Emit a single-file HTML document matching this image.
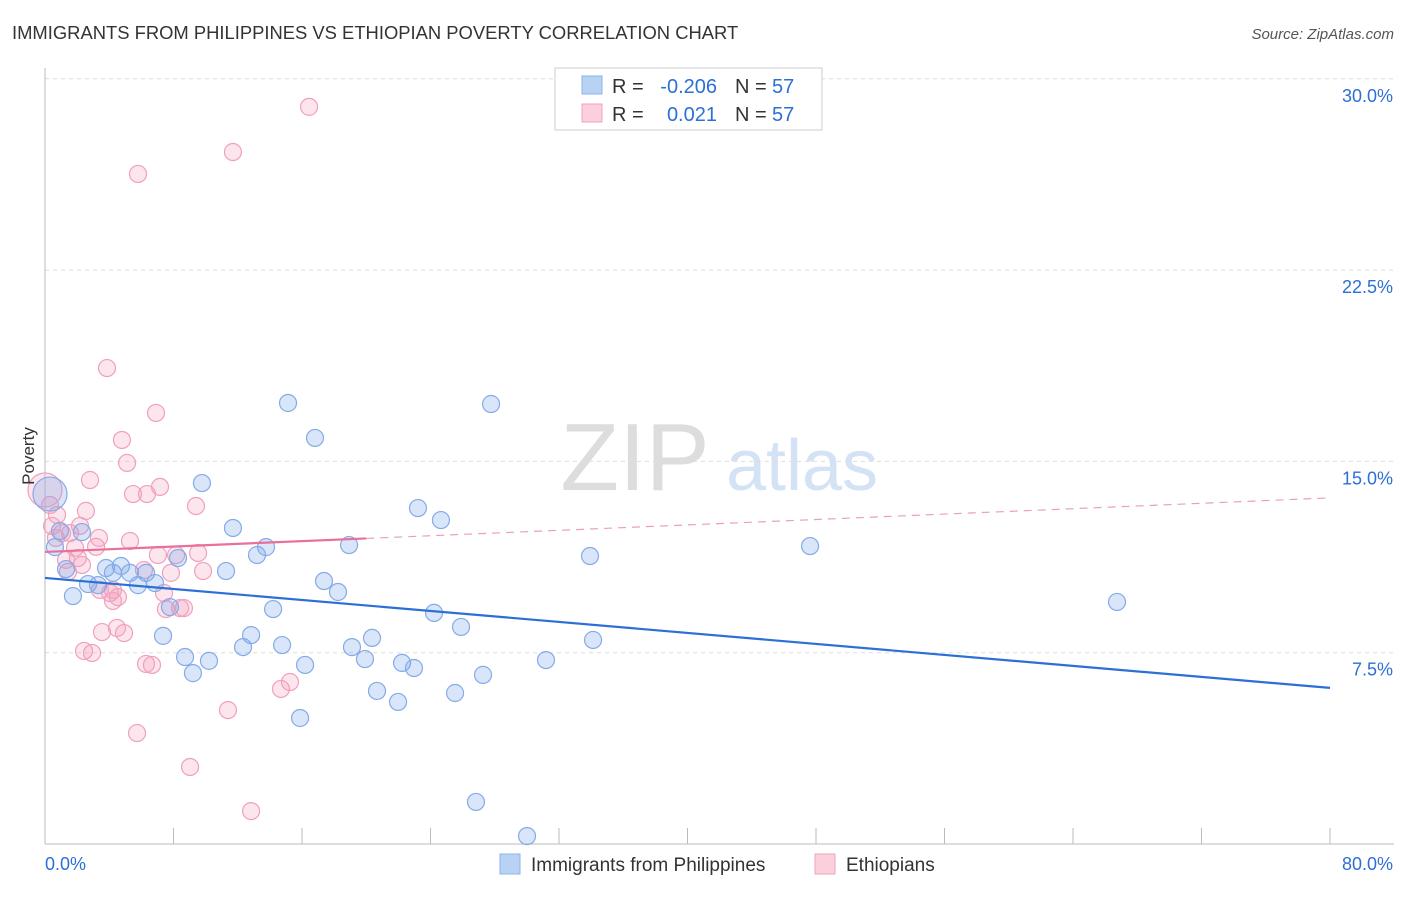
<!DOCTYPE html>
<html><head><meta charset="utf-8"><style>
body{margin:0;background:#fff;font-family:"Liberation Sans",sans-serif;}
svg text{font-family:"Liberation Sans",sans-serif;}
</style></head><body>
<svg id="chart" width="1406" height="892">
<text x="12" y="39" font-size="18.4" fill="#333">IMMIGRANTS FROM PHILIPPINES VS ETHIOPIAN POVERTY CORRELATION CHART</text>
<text x="1394" y="39" font-size="15" fill="#555" font-style="italic" text-anchor="end">Source: ZipAtlas.com</text>
<g><text x="635" y="490" font-size="96" fill="#ddd" font-family="Liberation Serif" text-anchor="middle">ZIP</text><text x="802" y="490" font-size="72" fill="#d3e2f5" text-anchor="middle">atlas</text></g>
<g id="grid"></g><g id="axes"></g><g id="pts"></g><g id="trend"></g>
<text x="0" y="0" transform="translate(34,456) rotate(-90)" font-size="17" fill="#333" text-anchor="middle">Poverty</text>
<g>
<rect x="555" y="68" width="267" height="62" fill="#fff" stroke="#ccc"/>
<rect x="582" y="76" width="20" height="18" fill="#b8d2f4" stroke="#8fb2ea"/>
<text x="612" y="93" font-size="20" fill="#333">R =</text>
<text x="717" y="93" font-size="20" fill="#2c6fd6" text-anchor="end">-0.206</text>
<text x="735" y="93" font-size="20" fill="#333">N =</text>
<text x="772" y="93" font-size="20" fill="#2c6fd6">57</text>
<rect x="582" y="104" width="20" height="18" fill="#fbcfdc" stroke="#f0a0bd"/>
<text x="612" y="121" font-size="20" fill="#333">R =</text>
<text x="717" y="121" font-size="20" fill="#2c6fd6" text-anchor="end">0.021</text>
<text x="735" y="121" font-size="20" fill="#333">N =</text>
<text x="772" y="121" font-size="20" fill="#2c6fd6">57</text>
</g>
<g>
<rect x="500" y="854" width="20" height="20" fill="#b8d2f4" stroke="#8fb2ea"/>
<text x="531" y="871" font-size="19" fill="#333">Immigrants from Philippines</text>
<rect x="815" y="854" width="20" height="20" fill="#fbcfdc" stroke="#f0a0bd"/>
<text x="846" y="871" font-size="19" fill="#333">Ethiopians</text>
</g>
</svg>
<script>
const blueX=[0.31,0.62,0.93,1.31,1.74,2.30,2.68,3.30,3.80,4.23,4.73,5.29,5.79,6.29,6.85,7.35,7.78,8.28,8.72,9.21,9.77,10.21,11.27,11.70,12.33,12.83,13.20,13.76,14.20,14.76,15.13,15.88,16.19,16.81,17.37,18.24,18.93,19.11,19.92,20.36,20.67,21.98,22.23,22.97,23.22,24.22,24.65,25.53,25.90,26.83,27.27,27.77,30.01,31.19,33.93,34.12,47.63,66.74];
const blueY=[13.72,11.64,12.27,10.78,9.72,12.23,10.19,10.15,10.82,10.63,10.90,10.63,10.15,10.63,10.23,8.16,9.29,11.21,7.33,6.70,14.15,7.18,10.70,12.39,7.72,8.19,11.33,11.64,9.21,7.80,17.29,4.94,7.02,15.92,10.31,9.88,11.72,7.72,7.25,8.08,6.00,5.57,7.10,6.90,13.17,9.06,12.70,5.92,8.51,1.65,6.63,17.25,0.31,7.21,11.29,8.00,11.68,9.49];
const pinkX=[0,0.31,0.44,0.68,1.06,1.31,1.56,1.87,2.18,2.30,2.55,2.80,3.18,3.36,3.55,3.86,4.05,4.23,4.48,4.79,4.92,5.11,5.29,5.48,5.79,6.16,6.35,6.29,6.66,6.91,7.16,7.41,7.53,7.84,8.16,8.41,8.65,9.03,9.40,9.53,9.84,11.39,11.70,12.83,14.69,15.25,16.44,5.73,2.43,2.93,4.54,0.75,1.43,3.42,4.23,7.03,2.05];
const pinkY=[13.88,13.29,12.47,12.00,12.19,11.14,12.19,11.61,12.47,10.94,13.06,14.27,11.65,12.00,8.31,18.66,9.84,9.53,8.47,15.84,8.27,14.94,11.88,13.72,26.27,10.74,13.72,7.06,7.02,16.90,14.00,9.84,9.21,10.63,11.33,9.25,9.25,3.02,13.25,11.41,10.70,5.25,27.13,1.29,6.08,6.35,28.90,4.35,7.57,7.49,9.68,12.90,10.67,9.96,9.96,11.33,11.21];
const blueTrend=[10.43,6.12];
const pinkTrend=[11.45,13.57];
const yTicks=[7.5,15,22.5,30];
const xTickVals=[0,8,16,24,32,40,48,56,64,72,80];
const NS="http://www.w3.org/2000/svg";
const sx=v=>45+v/80*1285;
const sy=v=>844-v/7.5*191.3;
function mk(tag,attrs,parent){const e=document.createElementNS(NS,tag);for(const k in attrs)e.setAttribute(k,attrs[k]);parent.appendChild(e);return e;}
const grid=document.getElementById('grid'),axes=document.getElementById('axes'),pts=document.getElementById('pts'),trend=document.getElementById('trend');
yTicks.forEach(t=>{
 const l=mk('line',{x1:45,x2:1394,y1:sy(t),y2:sy(t),stroke:'#ddd','stroke-dasharray':'4,4'},grid);
 
 
 const tx=mk('text',{x:1393,y:sy(t)+23,'font-size':18,fill:'#2c6fd6','text-anchor':'end'},axes);
 tx.textContent=t.toFixed(1)+'%';
 
 
});
const ya=mk('line',{x1:45,x2:45,y1:68,y2:844,stroke:'#bbb'},axes);


const xa=mk('line',{x1:45,x2:1394,y1:844,y2:844,stroke:'#bbb'},axes);


xTickVals.forEach(t=>{
 const l=mk('line',{x1:sx(t),x2:sx(t),y1:828,y2:844,stroke:'#bbb'},axes);
 
 
});
[[0,'0.0%','start',45],[80,'80.0%','end',1393]].forEach(a=>{
 const tx=mk('text',{x:a[3],y:870,'font-size':18,fill:'#2c6fd6','text-anchor':a[2]},axes);
 tx.textContent=a[1];
 
 
});
function drawPts(X,Y,fill,stroke,name){
 X.forEach((x,i)=>{
  const r=(x<0.5&&i===0)?17:8.5;
  const c=mk('circle',{cx:sx(x),cy:sy(Y[i]),r:r,fill:fill,stroke:stroke,'stroke-width':1.2},pts);
  
  
 });
}
drawPts(pinkX,pinkY,'rgba(244,160,190,0.28)','#f0a0bd','ethiopians-point');
drawPts(blueX,blueY,'rgba(120,165,235,0.28)','#85aae8','philippines-point');
const bl=mk('line',{x1:sx(0),y1:sy(blueTrend[0]),x2:sx(80),y2:sy(blueTrend[1]),stroke:'#2c6fd6','stroke-width':2.2},trend);


const pslope=(pinkTrend[1]-pinkTrend[0])/80;
const pl=mk('line',{x1:sx(0),y1:sy(pinkTrend[0]),x2:sx(20),y2:sy(pinkTrend[0]+pslope*20),stroke:'#e8709a','stroke-width':2.2},trend);


const pd=mk('line',{x1:sx(20),y1:sy(pinkTrend[0]+pslope*20),x2:sx(80),y2:sy(pinkTrend[1]),stroke:'#eaa0ba','stroke-width':1.2,'stroke-dasharray':'8,6'},trend);


</script>
</body></html>
